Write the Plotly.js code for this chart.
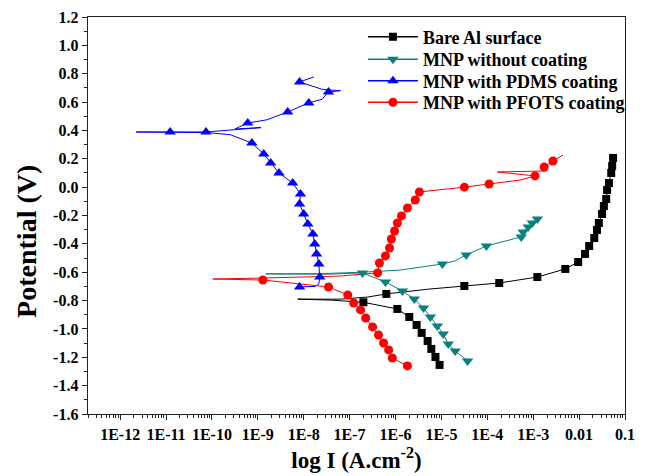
<!DOCTYPE html>
<html>
<head>
<meta charset="utf-8">
<script src="https://cdn.plot.ly/plotly-3.0.1.min.js"></script>
<style>html,body{margin:0;padding:0;background:#fff}#chart{width:646px;height:476px}</style>
</head>
<body>
<div id="chart"></div>
<script>
// Series names
const seriesNames = ["Bare Al surface", "MNP without coating", "MNP with PDMS coating", "MNP with PFOTS coating"];

// log10 of current density (A/cm2), potential (V), and marker flag (1 = symbol drawn)
const bareLogI = [-5.04,-5.13,-5.22,-5.30,-5.43,-5.54,-5.70,-5.96,-6.70,-7.40,-8.13,-7.20,-6.60,-6.20,-5.30,-4.50,-3.74,-2.91,-2.30,-2.02,-1.87,-1.78,-1.67,-1.61,-1.57,-1.50,-1.46,-1.41,-1.39,-1.35,-1.30,-1.28,-1.26];
const bareE    = [-1.254,-1.198,-1.141,-1.085,-1.028,-0.972,-0.916,-0.859,-0.812,-0.797,-0.790,-0.790,-0.775,-0.753,-0.720,-0.697,-0.676,-0.634,-0.577,-0.528,-0.471,-0.415,-0.359,-0.302,-0.253,-0.189,-0.133,-0.083,-0.020,0.029,0.100,0.149,0.206];
const bareMark = [1,1,1,1,1,1,1,1,1,0,0,0,0,1,0,1,1,1,1,1,1,1,1,1,1,1,1,1,1,1,1,1,1];

const mnpLogI = [-4.43,-4.70,-4.85,-4.96,-5.09,-5.24,-5.39,-5.59,-5.85,-6.22,-6.72,-7.50,-8.83,-7.60,-6.72,-5.90,-4.98,-4.70,-4.62,-4.46,-4.02,-3.26,-3.22,-3.11,-3.02,-2.91];
const mnpE    = [-1.226,-1.155,-1.106,-1.036,-0.979,-0.916,-0.852,-0.789,-0.732,-0.669,-0.605,-0.614,-0.612,-0.610,-0.600,-0.585,-0.542,-0.520,-0.505,-0.478,-0.415,-0.351,-0.316,-0.281,-0.253,-0.225];
const mnpMark = [1,1,1,1,1,1,1,1,1,1,1,0,0,0,0,0,1,0,0,1,1,1,1,1,1,1];

const pdmsLogI = [-8.09,-7.75,-7.67,-7.65,-7.67,-7.72,-7.76,-7.80,-7.91,-8.00,-8.09,-8.07,-8.24,-8.54,-8.72,-8.87,-9.13,-9.60,-10.13,-11.00,-11.65,-10.91,-10.13,-8.93,-9.50,-9.22,-8.80,-8.35,-7.89,-7.60,-7.46,-7.20,-7.60,-8.09,-7.78];
const pdmsE    = [-0.704,-0.700,-0.683,-0.634,-0.542,-0.471,-0.401,-0.330,-0.260,-0.189,-0.119,-0.048,0.029,0.100,0.170,0.234,0.311,0.370,0.385,0.389,0.389,0.389,0.389,0.420,0.410,0.452,0.475,0.530,0.594,0.620,0.671,0.680,0.690,0.742,0.777];
const pdmsMark = [1,0,0,1,1,1,1,1,1,1,1,1,1,1,1,1,1,0,0,0,0,1,1,0,0,1,0,1,1,0,1,0,0,1,0];

const pfotsLogI = [-5.74,-6.07,-6.15,-6.26,-6.37,-6.50,-6.65,-6.76,-6.91,-7.04,-7.46,-8.89,-9.98,-8.89,-7.20,-6.39,-6.35,-6.22,-6.13,-6.09,-6.02,-5.96,-5.87,-5.74,-5.57,-5.48,-4.50,-3.96,-3.28,-2.96,-3.78,-2.72,-2.76,-2.57,-2.35];
const pfotsE    = [-1.261,-1.205,-1.148,-1.099,-1.043,-0.986,-0.923,-0.866,-0.817,-0.761,-0.704,-0.655,-0.648,-0.641,-0.627,-0.605,-0.535,-0.485,-0.429,-0.366,-0.309,-0.253,-0.203,-0.147,-0.091,-0.034,0.000,0.022,0.050,0.079,0.107,0.114,0.142,0.184,0.227];
const pfotsMark = [1,1,1,1,1,1,1,1,1,1,1,1,0,0,0,1,1,1,1,1,1,1,1,1,1,1,1,1,0,1,0,0,1,1,0];

// Axis ticks
const xTickVals = [1e-12,1e-11,1e-10,1e-9,1e-8,1e-7,1e-6,1e-5,1e-4,1e-3,1e-2,1e-1];
const xTickText = ["1E-12","1E-11","1E-10","1E-9","1E-8","1E-7","1E-6","1E-5","1E-4","1E-3","0.01","0.1"];
const yTickVals = [1.2,1.0,0.8,0.6,0.4,0.2,0.0,-0.2,-0.4,-0.6,-0.8,-1.0,-1.2,-1.4,-1.6];
const yTickText = ["1.2","1.0","0.8","0.6","0.4","0.2","0.0","-0.2","-0.4","-0.6","-0.8","-1.0","-1.2","-1.4","-1.6"];

const series = [
  {logI: bareLogI, E: bareE, mark: bareMark, color: "#000000", symbol: "square", size: 8},
  {logI: mnpLogI, E: mnpE, mark: mnpMark, color: "#0a8080", symbol: "triangle-down", size: 10},
  {logI: pdmsLogI, E: pdmsE, mark: pdmsMark, color: "#0000ff", symbol: "triangle-up", size: 10},
  {logI: pfotsLogI, E: pfotsE, mark: pfotsMark, color: "#ff0000", symbol: "circle", size: 9}
];

const traces = [];
series.forEach((s) => {
  const x = s.logI.map(v => Math.pow(10, v));
  traces.push({x: x, y: s.E, mode: "lines", type: "scatter", showlegend: false,
    line: {color: s.color, width: 1}, hoverinfo: "skip"});
});
series.forEach((s) => {
  const mx = [], my = [];
  s.logI.forEach((v, i) => { if (s.mark[i]) { mx.push(Math.pow(10, v)); my.push(s.E[i]); } });
  traces.push({x: mx, y: my, mode: "markers", type: "scatter", showlegend: false,
    marker: {color: s.color, symbol: s.symbol, size: s.size}});
});
const legendIds = ["legend", "legend2", "legend3", "legend4"];
series.forEach((s, i) => {
  traces.push({x: [null], y: [null], mode: "lines+markers", type: "scatter", name: seriesNames[i],
    legend: legendIds[i],
    line: {color: s.color, width: 1.5}, marker: {color: s.color, symbol: s.symbol, size: s.size}});
});

// minor ticks for log axis
const minorX = [];
for (let d = -13; d <= -2; d++) for (let k = 2; k <= 9; k++) minorX.push(k * Math.pow(10, d));

const font = "Liberation Serif, Times New Roman, serif";
const legendY = [0.9496, 0.893, 0.8388, 0.7846];
function legendBox(y) {
  return {x: 0.512, xanchor: "left", y: y, yanchor: "middle",
    bgcolor: "rgba(0,0,0,0)", borderwidth: 0,
    font: {family: font, size: 18, weight: "bold"}, itemwidth: 50};
}
const layout = {
  width: 646, height: 476,
  margin: {l: 88, r: 21, t: 17, b: 62},
  paper_bgcolor: "#fff", plot_bgcolor: "#fff",
  font: {family: font, color: "#000", size: 16, weight: "bold"},
  xaxis: {
    type: "log", range: [-12.7, -1],
    tickmode: "array", tickvals: xTickVals, ticktext: xTickText,
    ticks: "outside", ticklen: 5, tickwidth: 1, tickcolor: "#222",
    showline: true, linecolor: "#222", linewidth: 1.4, mirror: true,
    showgrid: false, zeroline: false,
    tickfont: {family: font, size: 16, weight: "bold"},
    minor: {tickmode: "array", tickvals: minorX, ticks: "outside", ticklen: 3, tickcolor: "#222", showgrid: false},
    title: {text: "log I (A.cm<sup>-2</sup>)", font: {family: font, size: 23, weight: "bold"}, standoff: 10}
  },
  yaxis: {
    range: [-1.6, 1.2],
    tickmode: "array", tickvals: yTickVals, ticktext: yTickText,
    ticks: "outside", ticklen: 5, tickwidth: 1, tickcolor: "#222",
    showline: true, linecolor: "#222", linewidth: 1.4, mirror: true,
    showgrid: false, zeroline: false,
    tickfont: {family: font, size: 16, weight: "bold"},
    minor: {dtick: 0.1, ticks: "outside", ticklen: 3, tickcolor: "#222", showgrid: false}
  },
  annotations: [{
    text: "Potential (V)", textangle: -90, showarrow: false,
    xref: "paper", yref: "paper", x: -0.1136, y: 0.436, xanchor: "center", yanchor: "middle",
    font: {family: font, size: 28, weight: "bold", color: "#000"}
  }],
  legend: legendBox(legendY[0]),
  legend2: legendBox(legendY[1]),
  legend3: legendBox(legendY[2]),
  legend4: legendBox(legendY[3]),
  showlegend: true
};

Plotly.newPlot("chart", traces, layout, {displayModeBar: false, staticPlot: true});
</script>
</body>
</html>
